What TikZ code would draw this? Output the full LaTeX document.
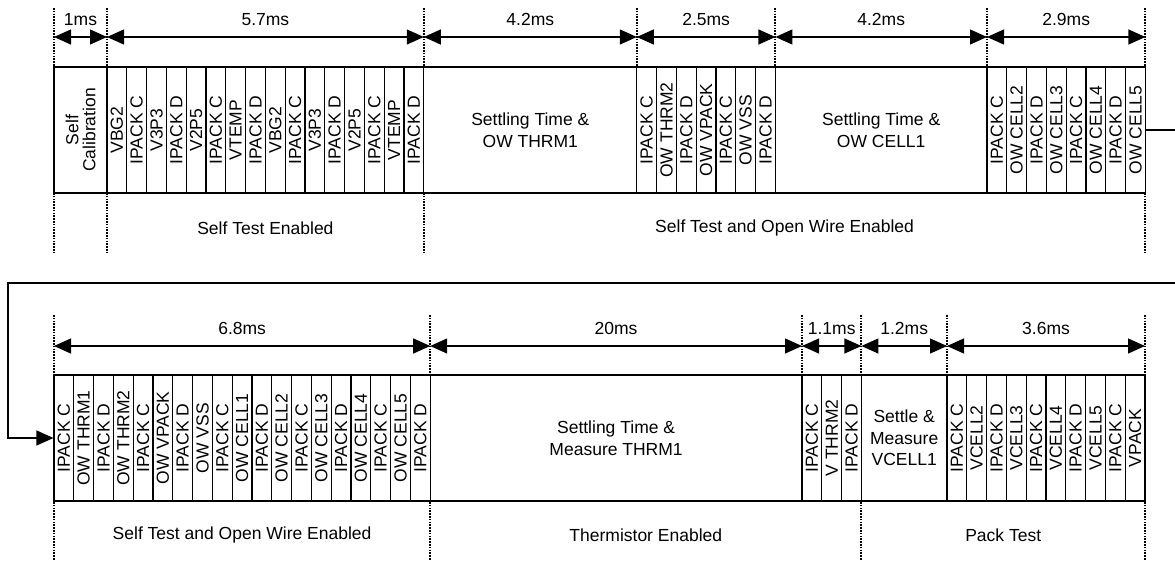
\documentclass[tikz,border=0pt]{standalone}
\usepackage{fontspec}
\setmainfont{Liberation Sans}
\usetikzlibrary{arrows.meta,calc}

\begin{document}
\begin{tikzpicture}[
    x=1pt, y=-1pt,
    font=\fontsize{17.5}{21.5}\selectfont,
    slot_box/.style={draw, line width=1.1pt, rotate=90, minimum width=126pt, minimum height=19.8pt, inner sep=0pt},
    wide_box/.style={draw, line width=1.1pt, minimum height=126pt, inner sep=0pt, align=center},
    mark_line/.style={line width=2pt, dash pattern=on 1.6pt off 1.2pt},
    tip/.tip={Triangle[length=17pt,width=15pt]},
    span_arrow/.style={tip-tip, line width=1.2pt},
    flow_arrow/.style={-tip, line width=1.2pt}
]
\useasboundingbox (0,0) rectangle (1175,562);

% TOP ROW
\node[wide_box, rotate=90, minimum width=126pt, minimum height=53pt] (calib) at (80.5,130) {Self\\[-4.5pt]Calibration};
\foreach \txt [count=\i] in {VBG2, IPACK C, V3P3, IPACK D, V2P5, IPACK C, VTEMP, IPACK D,
                             VBG2, IPACK C, V3P3, IPACK D, V2P5, IPACK C, VTEMP, IPACK D}
    \node[slot_box] (a\i) at ({107+(\i-0.5)*19.8},130) {\txt};
\node[wide_box, minimum width=213pt] (owthrm) at (530.3,130) {Settling Time \&\\OW THRM1};
\foreach \txt [count=\i] in {IPACK C, OW THRM2, IPACK D, OW VPACK, IPACK C, OW VSS, IPACK D}
    \node[slot_box] (b\i) at ({636.8+(\i-0.5)*19.8},130) {\txt};
\node[wide_box, minimum width=211.6pt] (owcell) at (881.2,130) {Settling Time \&\\OW CELL1};
\foreach \txt [count=\i] in {IPACK C, OW CELL2, IPACK D, OW CELL3, IPACK C, OW CELL4, IPACK D, OW CELL5}
    \node[slot_box] (c\i) at ({987+(\i-0.5)*19.8},130) {\txt};

% top row timing marks
\foreach \x [count=\i] in {54, 107, 423.8, 636.8, 775.4, 987, 1145.4} {
    \coordinate (tt\i) at (\x,8);
    \coordinate (ta\i) at (\x,37);
    \draw[mark_line] (tt\i) -- (\x,67);
}
\foreach \a/\b/\lbl in {1/2/1ms, 2/3/5.7ms, 3/4/4.2ms, 4/5/2.5ms, 5/6/4.2ms, 6/7/2.9ms}
    \draw[span_arrow] (ta\a) -- node[above=7pt] {\lbl} (ta\b);
\foreach \x in {54, 107, 423.8, 1145.4}
    \draw[mark_line] (\x,193) -- (\x,254);
\node (selftest) at (265.4,228) {Self Test Enabled};
\node (openwire) at (784.6,228) {Self Test and Open Wire Enabled};

% BOTTOM ROW
\foreach \txt [count=\i] in {IPACK C, OW THRM1, IPACK D, OW THRM2, IPACK C, OW VPACK, IPACK D,
                             OW VSS, IPACK C, OW CELL1, IPACK D, OW CELL2, IPACK C, OW CELL3,
                             IPACK D, OW CELL4, IPACK C, OW CELL5, IPACK D}
    \node[slot_box] (d\i) at ({54+(\i-0.5)*19.8},438) {\txt};
\node[wide_box, minimum width=371.8pt] (thrm) at (616.1,438) {Settling Time \&\\Measure THRM1};
\foreach \txt [count=\i] in {IPACK C, V THRM2, IPACK D}
    \node[slot_box] (e\i) at ({802+(\i-0.5)*19.8},438) {\txt};
\node[wide_box, minimum width=85.6pt] (vcell) at (904.2,438) {Settle \&\\Measure\\VCELL1};
\foreach \txt [count=\i] in {IPACK C, VCELL2, IPACK D, VCELL3, IPACK C, VCELL4, IPACK D, VCELL5, IPACK C, VPACK}
    \node[slot_box] (f\i) at ({947+(\i-0.5)*19.8},438) {\txt};

% bottom row timing marks
\foreach \x [count=\i] in {54, 430.2, 802, 861.4, 947, 1145} {
    \coordinate (bt\i) at (\x,315);
    \coordinate (ba\i) at (\x,346);
    \draw[mark_line] (bt\i) -- (\x,375);
}
\foreach \a/\b/\lbl in {1/2/6.8ms, 2/3/20ms, 3/4/1.1ms, 4/5/1.2ms, 5/6/3.6ms}
    \draw[span_arrow] (ba\a) -- node[above=7pt] {\lbl} (ba\b);
\foreach \x in {54, 430.2, 861.4, 1145}
    \draw[mark_line] (\x,502) -- (\x,560);
\node (openwire2) at (242.1,535) {Self Test and Open Wire Enabled};
\node (thermen) at (645.8,535) {Thermistor Enabled};
\node (packtest) at (1003.2,535) {Pack Test};

% WRAP CONNECTOR
\coordinate (wrapR) at (1185,283);
\coordinate (wrapL) at (8,283);
\draw[flow_arrow] (c8.south) -| (wrapR) -- (wrapL) |- (d1.north);

\end{tikzpicture}
\end{document}
